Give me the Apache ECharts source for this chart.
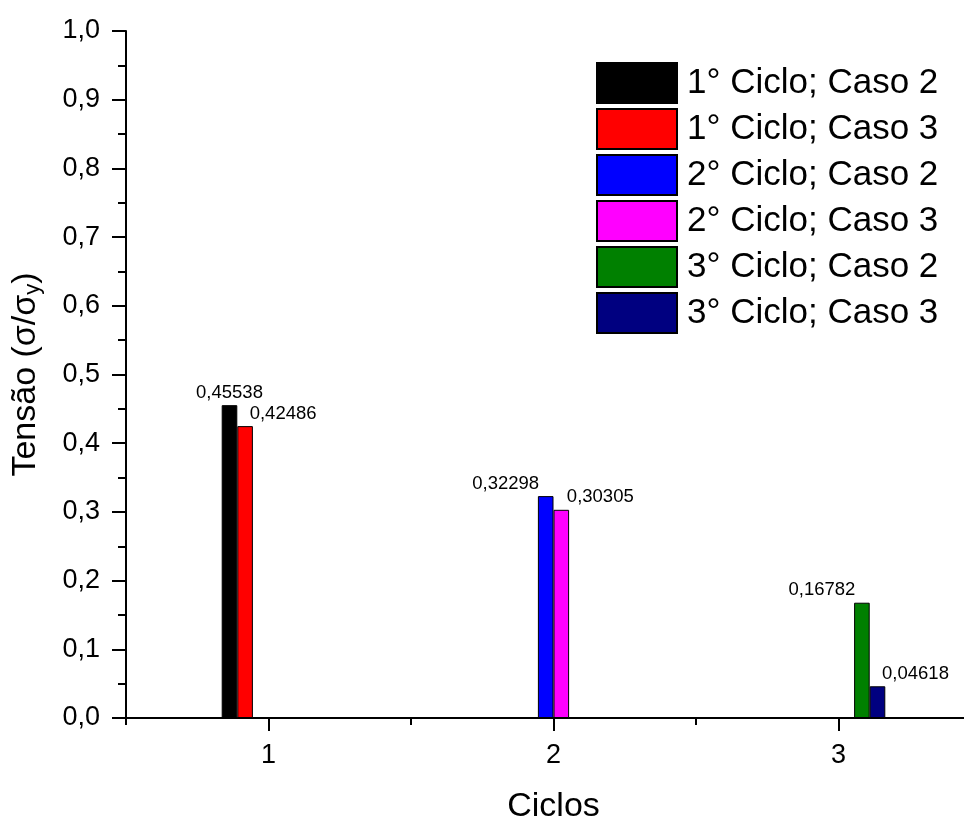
<!DOCTYPE html>
<html>
<head>
<meta charset="utf-8">
<script src="https://cdn.jsdelivr.net/npm/echarts@6/dist/echarts.min.js"></script>
<style>
  html, body { margin: 0; padding: 0; background: #ffffff; }
  #chart { width: 964px; height: 821px; }
</style>
</head>
<body>
<div id="chart"></div>
<script>
// Categories on the x axis (cycle number)
const categories = ['1', '2', '3'];

// One series per cycle/case; each has a value only in its own cycle
const ciclo1Caso2 = [0.45538, null, null];
const ciclo1Caso3 = [0.42486, null, null];
const ciclo2Caso2 = [null, 0.32298, null];
const ciclo2Caso3 = [null, 0.30305, null];
const ciclo3Caso2 = [null, null, 0.16782];
const ciclo3Caso3 = [null, null, 0.04618];

const seriesNames = [
  '1° Ciclo; Caso 2', '1° Ciclo; Caso 3',
  '2° Ciclo; Caso 2', '2° Ciclo; Caso 3',
  '3° Ciclo; Caso 2', '3° Ciclo; Caso 3'
];
const seriesData = [ciclo1Caso2, ciclo1Caso3, ciclo2Caso2, ciclo2Caso3, ciclo3Caso2, ciclo3Caso3];

// Styling
const colors = ['#000000', '#ff0000', '#0000ff', '#ff00ff', '#008000', '#000080'];
const labelShiftX = [0, 38, -40, 39, -40, 38];

const FONT = 'Arial, "Liberation Sans", Helvetica, sans-serif';
const comma = (v, d) => v.toFixed(d).replace('.', ',');

const chart = echarts.init(document.getElementById('chart'), null, { renderer: 'canvas' });

const series = seriesData.map((arr, i) => ({
  name: seriesNames[i],
  type: 'bar',
  xAxisIndex: 0,
  yAxisIndex: 0,
  barWidth: 15.6,
  barGap: '0%',
  data: arr.map(v => (v == null ? '-' : v)),
  itemStyle: { color: colors[i], borderColor: '#000000', borderWidth: 1 },
  label: {
    show: true,
    position: 'top',
    distance: 3,
    offset: [labelShiftX[i], 0],
    fontFamily: FONT,
    fontSize: 18.5,
    color: '#000000',
    formatter: p => comma(p.value, 5)
  },
  emphasis: { disabled: true },
  animation: false
}));

const option = {
  backgroundColor: '#ffffff',
  animation: false,
  textStyle: { fontFamily: FONT },
  grid: {
    left: 126,
    top: 31,
    width: 855,
    height: 687,
    outerBoundsMode: 'none',
    containLabel: false
  },
  legend: {
    orient: 'vertical',
    left: 596,
    top: 62,
    padding: 0,
    itemWidth: 80,
    itemHeight: 40,
    itemGap: 4,
    icon: 'rect',
    selectedMode: false,
    textStyle: { fontFamily: FONT, fontSize: 35, color: '#000000', padding: [0, 0, 0, 5] },
    data: seriesNames
  },
  xAxis: [
    {
      type: 'category',
      data: categories,
      boundaryGap: true,
      position: 'bottom',
      name: 'Ciclos',
      nameLocation: 'middle',
      nameGap: 72,
      nameTextStyle: { fontFamily: FONT, fontSize: 34, color: '#000000' },
      axisLine: { show: true, lineStyle: { color: '#000000', width: 2 } },
      axisTick: { show: true, alignWithLabel: true, length: 13, lineStyle: { color: '#000000', width: 2 } },
      axisLabel: { show: true, margin: 24, fontFamily: FONT, fontSize: 27, color: '#000000' },
      splitLine: { show: false }
    },
    {
      // band-boundary ticks (half-integer positions)
      type: 'category',
      data: categories,
      boundaryGap: true,
      position: 'bottom',
      axisLine: { show: false },
      axisTick: { show: true, alignWithLabel: false, length: 7, lineStyle: { color: '#000000', width: 2 } },
      axisLabel: { show: false },
      splitLine: { show: false }
    }
  ],
  yAxis: {
    type: 'value',
    min: 0,
    max: 1,
    interval: 0.1,
    name: 'Tensão (σ/σ{sub|y})',
    nameLocation: 'middle',
    nameGap: 82,
    nameRotate: 90,
    nameTextStyle: {
      fontFamily: FONT,
      fontSize: 34,
      color: '#000000',
      rich: {
        sub: { fontFamily: FONT, fontSize: 22, color: '#000000', padding: [14, 0, 0, 0] }
      }
    },
    axisLine: { show: true, lineStyle: { color: '#000000', width: 2 } },
    axisTick: { show: true, length: 14, lineStyle: { color: '#000000', width: 2 } },
    minorTick: { show: true, splitNumber: 2, length: 8, lineStyle: { color: '#000000', width: 2 } },
    axisLabel: {
      margin: 26,
      fontFamily: FONT,
      fontSize: 27,
      color: '#000000',
      formatter: v => comma(v, 1)
    },
    splitLine: { show: false },
    minorSplitLine: { show: false }
  },
  series: series
};

chart.setOption(option);
</script>
</body>
</html>
